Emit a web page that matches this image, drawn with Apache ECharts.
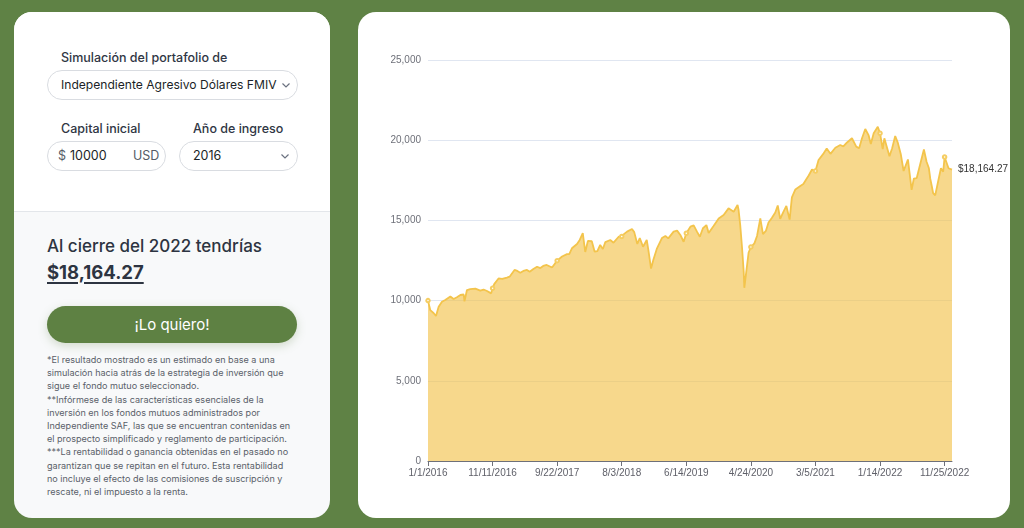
<!DOCTYPE html>
<html>
<head>
<meta charset="utf-8">
<script src="https://cdn.jsdelivr.net/npm/echarts@6/dist/echarts.min.js"></script>
<style>
	html, body { margin: 0; padding: 0; }
	body { width: 1024px; height: 528px; background: #5f8245; position: relative; overflow: hidden; font-family: "Inter", "Noto Sans", sans-serif; }
	.card { position: absolute; background: #fff; border-radius: 18px; overflow: hidden; }
	#form { left: 14px; top: 12px; width: 316px; height: 506px; background: #f8f9fa; }
	#form .top { position: absolute; left: 0; top: 0; width: 316px; height: 199px; background: #fff; border-bottom: 1px solid #e3e6ea; }
	.abs { position: absolute; white-space: nowrap; }
	.lbl { font-size: 12.5px; font-weight: 500; color: #2f3644; line-height: 16px; }
	.box { position: absolute; border: 1px solid #d9dce1; border-radius: 16px; height: 28px; background: #fff; box-sizing: content-box; }
	.box span { position: absolute; top: 0; line-height: 28px; font-size: 12.5px; color: #1b1f27; white-space: nowrap; }
	.chev { position: absolute; top: 10px; width: 10px; height: 8px; }
	#res { left: 33px; top: 224px; font-size: 17px; font-weight: 500; color: #2d3441; line-height: 20px; }
	#amount { left: 33px; top: 249px; font-size: 18.5px; font-weight: 700; color: #2d3441; line-height: 22px; text-decoration: underline; text-underline-offset: 3px; text-decoration-thickness: 2px; }
	#btn { position: absolute; left: 33px; top: 294px; width: 250px; height: 37px; border-radius: 19px; background: #5e8143; color: #fff; font-size: 15px; line-height: 37px; text-align: center; box-shadow: 0 3px 10px rgba(94,129,67,0.25); }
	#note { left: 33px; top: 341px; font-size: 9.05px; line-height: 13.2px; color: #5a5f69; }
	#chartCard { left: 358px; top: 12px; width: 652px; height: 506px; }
	#chart { position: absolute; left: 0; top: 0; width: 652px; height: 506px; }
</style>
</head>
<body>
<div class="card" id="form">
	<div class="top"></div>
	<div class="abs lbl" style="left:47px;top:38px;">Simulación del portafolio de</div>
	<div class="box" style="left:33px;top:58px;width:249px;">
		<span style="left:13px;font-size:12.1px;">Independiente Agresivo Dólares FMIV</span>
		<svg class="chev" style="left:233px;" viewBox="0 0 10 8"><path d="M1.5 2.5 L5 6 L8.5 2.5" fill="none" stroke="#6b7280" stroke-width="1.2"/></svg>
	</div>
	<div class="abs lbl" style="left:47px;top:109px;">Capital inicial</div>
	<div class="abs lbl" style="left:179px;top:109px;">Año de ingreso</div>
	<div class="box" style="left:33px;top:129px;width:117px;">
		<span style="left:10px;color:#555b66;">$</span>
		<span style="left:22px;">10000</span>
		<span style="left:85px;color:#555b66;">USD</span>
	</div>
	<div class="box" style="left:165px;top:129px;width:117px;">
		<span style="left:13px;">2016</span>
		<svg class="chev" style="left:100px;" viewBox="0 0 10 8"><path d="M1.5 2.5 L5 6 L8.5 2.5" fill="none" stroke="#6b7280" stroke-width="1.2"/></svg>
	</div>
	<div class="abs" id="res">Al cierre del 2022 tendrías</div>
	<div class="abs" id="amount">$18,164.27</div>
	<div id="btn">¡Lo quiero!</div>
	<div class="abs" id="note">*El resultado mostrado es un estimado en base a una<br>simulación hacia atrás de la estrategia de inversión que<br>sigue el fondo mutuo seleccionado.<br>**Infórmese de las características esenciales de la<br>inversión en los fondos mutuos administrados por<br>Independiente SAF, las que se encuentran contenidas en<br>el prospecto simplificado y reglamento de participación.<br>***La rentabilidad o ganancia obtenidas en el pasado no<br>garantizan que se repitan en el futuro. Esta rentabilidad<br>no incluye el efecto de las comisiones de suscripción y<br>rescate, ni el impuesto a la renta.</div>
</div>
<div class="card" id="chartCard">
	<div id="chart"></div>
</div>
<script>
	// daily categories 1/1/2016 .. 12/31/2022
	var startYear = 2016;
	var dayCount = 2557;
	var labelStep = 315;

	var pointDates = [
		'1/1/2016','1/12/2016','1/28/2016','2/9/2016','2/22/2016','3/9/2016','3/25/2016','4/19/2016','5/5/2016','5/21/2016',
		'6/7/2016','6/23/2016','6/27/2016','7/9/2016','7/25/2016','8/19/2016','9/12/2016','9/28/2016','10/15/2016','11/4/2016',
		'11/11/2016','11/19/2016','12/10/2016','12/28/2016','1/20/2017','2/2/2017','2/26/2017','3/12/2017','3/26/2017','4/10/2017',
		'4/28/2017','5/11/2017','5/29/2017','6/16/2017','7/2/2017','7/16/2017','8/2/2017','8/28/2017','9/22/2017','10/16/2017',
		'11/9/2017','11/20/2017','12/3/2017','12/28/2017','1/10/2018','1/25/2018','2/6/2018','2/19/2018','3/10/2018','3/24/2018',
		'4/6/2018','4/20/2018','5/3/2018','5/15/2018','6/8/2018','6/24/2018','7/19/2018','8/3/2018','8/12/2018','8/29/2018',
		'9/22/2018','10/3/2018','10/18/2018','10/30/2018','11/15/2018','12/3/2018','12/11/2018','12/24/2018','1/4/2019','1/22/2019',
		'2/15/2019','3/4/2019','3/18/2019','4/13/2019','4/30/2019','5/16/2019','6/1/2019','6/14/2019','7/4/2019','7/20/2019',
		'8/5/2019','8/19/2019','9/3/2019','9/20/2019','10/1/2019','10/25/2019','11/19/2019','12/13/2019','1/6/2020','1/31/2020',
		'2/19/2020','2/24/2020','3/3/2020','3/12/2020','3/20/2020','3/23/2020','4/2/2020','4/13/2020','4/24/2020','5/11/2020',
		'5/24/2020','6/9/2020','6/22/2020','7/6/2020','7/19/2020','8/4/2020','8/21/2020','9/2/2020','9/14/2020','9/29/2020',
		'10/14/2020','10/30/2020','11/10/2020','11/27/2020','12/21/2020','1/5/2021','1/17/2021','1/31/2021','2/16/2021','3/5/2021',
		'3/20/2021','3/29/2021','4/14/2021','4/29/2021','5/17/2021','6/10/2021','7/4/2021','7/19/2021','8/6/2021','8/30/2021',
		'9/20/2021','10/4/2021','10/18/2021','11/3/2021','11/8/2021','11/19/2021','11/30/2021','12/14/2021','1/3/2022','1/14/2022',
		'1/27/2022','2/4/2022','3/1/2022','3/14/2022','3/29/2022','4/11/2022','4/25/2022','5/9/2022','5/30/2022','6/7/2022',
		'6/17/2022','6/28/2022','7/12/2022','7/21/2022','7/30/2022','8/16/2022','8/29/2022','9/9/2022','9/16/2022','9/24/2022',
		'9/30/2022','10/10/2022','10/24/2022','11/7/2022','11/18/2022','11/25/2022','12/4/2022','12/14/2022','12/21/2022','12/31/2022'
	];
	var pointValues = [
		10000,9410,9230,9040,9620,9930,10040,10260,10100,10210,
		10350,10380,9950,10660,10720,10750,10620,10690,10600,10450,
		10770,11030,11380,11350,11430,11490,11910,11850,11740,11850,
		11910,11800,11970,12110,12030,12160,12220,12060,12490,12750,
		12900,12900,13260,13530,13780,14200,13030,13720,13700,13050,
		13090,13470,13220,13650,13780,13610,13980,14000,14130,14300,
		14460,14270,13530,13900,13360,13780,13150,12000,12530,13260,
		13900,14030,13880,14300,14360,14090,13670,14200,14610,14690,
		14300,13980,14510,14710,14210,14650,15120,15340,15750,15540,
		15960,15650,14710,13280,11780,10800,11850,13000,13340,13570,
		14030,15130,14150,14340,14870,15150,15490,15930,15090,15520,
		15900,15050,16430,16930,17150,17270,17520,17800,18170,18080,
		18770,18890,19180,19480,19150,19530,19700,19610,19860,20120,
		19600,19500,20120,20700,20750,20320,19760,20430,20840,20430,
		19450,20120,19000,19500,20260,19830,19140,18080,18800,17960,
		16900,17610,17640,17520,18560,19420,18660,18270,17600,17100,
		16700,16560,17410,18250,18040,18950,18890,18250,18250,18164.27
	];
	var yMin = 0;
	var yMax = 25000;
	var yStep = 5000;

	var days = [];
	for (var i = 0; i < dayCount; i++) {
		var d = new Date(Date.UTC(startYear, 0, 1 + i));
		days.push((d.getUTCMonth() + 1) + '/' + d.getUTCDate() + '/' + d.getUTCFullYear());
	}
	var seriesData = [];
	for (var j = 0; j < pointDates.length; j++) {
		seriesData.push([pointDates[j], pointValues[j]]);
	}

	var chart = echarts.init(document.getElementById('chart'));
	chart.setOption({
		animation: false,
		textStyle: { fontFamily: 'Liberation Sans, Arial, sans-serif' },
		grid: { left: 70, right: 58, top: 48, bottom: 57 },
		xAxis: {
			type: 'category',
			boundaryGap: false,
			data: days,
			axisLine: { lineStyle: { color: '#6e7079' } },
			axisTick: { interval: labelStep - 1, length: 5 },
			axisLabel: { interval: labelStep - 1, fontSize: 10, color: '#5f6069', margin: 7 }
		},
		yAxis: {
			type: 'value',
			min: yMin,
			max: yMax,
			interval: yStep,
			axisLabel: { fontSize: 10, color: '#6e7079', margin: 7 },
			splitLine: { lineStyle: { color: '#e0e6f1' } }
		},
		series: [{
			type: 'line',
			data: seriesData,
			symbol: 'emptyCircle',
			symbolSize: 3.5,
			lineStyle: { color: '#f3c44c', width: 1.8 },
			itemStyle: { color: '#f5cd62', borderWidth: 1 },
			areaStyle: { color: '#f2c046', opacity: 0.62 },
			endLabel: {
				show: true,
				fontSize: 10,
				color: '#333',
				distance: 6,
				formatter: function (p) {
					return '$' + p.value[1].toLocaleString('en-US', { minimumFractionDigits: 2, maximumFractionDigits: 2 });
				}
			}
		}]
	});
</script>
</body>
</html>
